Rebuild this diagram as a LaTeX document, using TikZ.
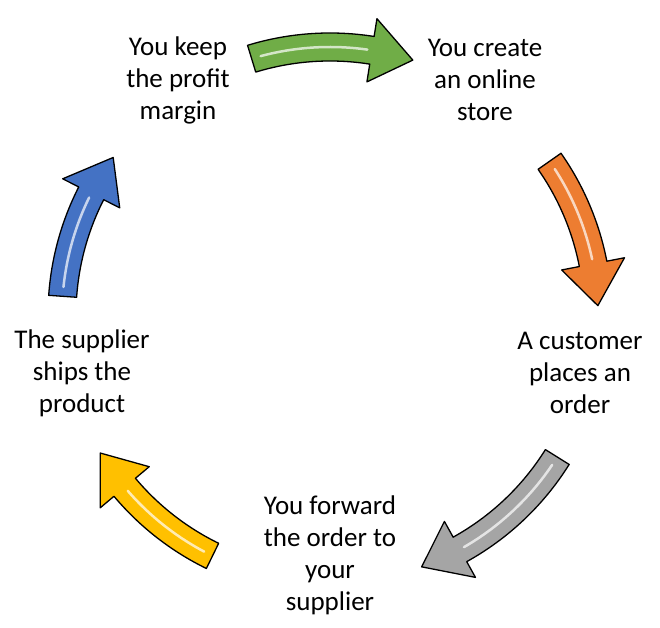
\documentclass[tikz,border=0pt]{standalone}
\usepackage{fontspec}
\setmainfont{Carlito}
\usetikzlibrary{calc,positioning}
\definecolor{stepgreen}{RGB}{112,173,71}
\definecolor{steporange}{RGB}{237,125,49}
\definecolor{stepgray}{RGB}{165,165,165}
\definecolor{stepyellow}{RGB}{255,192,0}
\definecolor{stepblue}{RGB}{68,114,196}

% curved block arrow on the cycle: colour, start angle, tip angle
\newcommand{\cyclearrow}[3]{%
  \pgfmathsetmacro{\headangle}{#3+9}
  \draw[step_arrow,fill=#1]
    ($(hub)+(#2:282)$) arc[start angle=#2,end angle=\headangle,radius=282]
    -- ($(hub)+(\headangle:300)$) -- ($(hub)+(#3:268)$) -- ($(hub)+(\headangle:236)$)
    -- ($(hub)+(\headangle:254)$) arc[start angle=\headangle,end angle=#2,radius=254] -- cycle;
  \draw[step_shine] ($(hub)+(#2-2:268)$) arc[start angle=#2-2,end angle=\headangle+1,radius=268];
}

\begin{document}
\begin{tikzpicture}[x=1pt,y=1pt,
  step_text/.style={align=center,font=\fontsize{27}{32}\selectfont,inner sep=0pt},
  step_arrow/.style={draw=black,line width=1.3pt,line join=round},
  step_shine/.style={white,line width=2.5pt,opacity=.7,line cap=round}
  ]
  \useasboundingbox (0,0) rectangle (660,627);
  \coordinate (hub) at (330,312);

%steps
  \node (keep) [step_text] at (178,547) {You keep\\the profit\\margin};
  \node (create) [step_text] at (485,547) {You create\\an online\\store};
  \node (order) [step_text] at (580,254) {A customer\\places an\\order};
  \node (forward) [step_text] at (330,72) {You forward\\the order to\\your\\supplier};
  \node (ships) [step_text] at (82,254) {The supplier\\ships the\\product};

%arrows
  \cyclearrow{stepgreen}{107}{72}
  \cyclearrow{steporange}{35}{2}
  \cyclearrow{stepgray}{-32}{-70}
  \cyclearrow{stepyellow}{-116}{-149}
  \cyclearrow{stepblue}{176}{144}
\end{tikzpicture}
\end{document}
